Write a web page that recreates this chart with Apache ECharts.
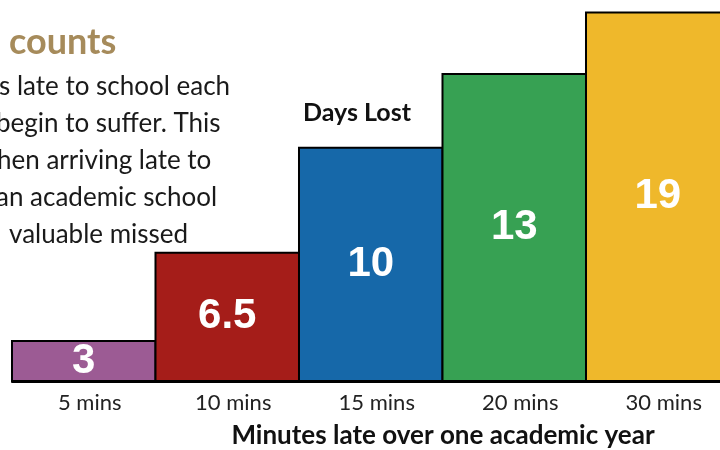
<!DOCTYPE html>
<html>
<head>
<meta charset="utf-8">
<script src="https://cdn.jsdelivr.net/npm/echarts@6/dist/echarts.min.js"></script>
<style>
html,body{margin:0;padding:0;background:#fff;}
#chart{width:720px;height:450px;}
</style>
</head>
<body>
<div id="chart"></div>
<script>
// Categories (minutes late per day)
const categories = ['5 mins', '10 mins', '15 mins', '20 mins', '30 mins'];
// Days lost over one academic year (value labels)
const daysLost = [3, 6.5, 10, 13, 19];
// Bar heights as drawn in the reference (the infographic is not to scale)
const barHeights = [2.15, 6.68, 12.06, 15.85, 19];
const barColors = ['#9c5b94', '#a51d19', '#1668a9', '#37a153', '#efb82b'];
// Visible (cropped) text from the reference
const titleText = 'counts';
const bodyLines = ['s late to school each', 'begin to suffer. This', 'hen arriving late to', 'an academic school', 'valuable missed'];
const seriesName = 'Days Lost';
const axisTitle = 'Minutes late over one academic year';

const chart = echarts.init(document.getElementById('chart'), null, {renderer: 'canvas'});
const bodyX = [-1, -4, -3, -4, 9];
const graphics = [
  {type: 'text', x: 9, y: 42, style: {text: titleText, font: 'bold 36px Lato', fill: '#a68b5b', verticalAlign: 'middle'}}
];
bodyLines.forEach((t, i) => {
  graphics.push({type: 'text', x: bodyX[i], y: 87 + i * 37, style: {text: t, font: '26px Lato', fill: '#1a1a1a', verticalAlign: 'middle'}});
});
graphics.push({type: 'text', x: 357, y: 113, style: {text: seriesName, font: 'bold 25px Lato', fill: '#111', align: 'center', verticalAlign: 'middle'}});
graphics.push({type: 'text', x: 443, y: 436, style: {text: axisTitle, font: 'bold 26px Lato', fill: '#111', align: 'center', verticalAlign: 'middle'}});

chart.setOption({
  animation: false,
  grid: {left: 12, right: -9.5, top: 11.5, bottom: 68, outerBoundsMode: 'none', containLabel: false},
  xAxis: {
    type: 'category',
    data: categories,
    axisLine: {show: true, lineStyle: {color: '#000', width: 2}},
    axisTick: {show: false},
    axisLabel: {color: '#222', fontFamily: 'Lato', fontSize: 22, margin: 10, padding: [0, 0, 0, 12], hideOverlap: false}
  },
  yAxis: {type: 'value', min: 0, max: 19, show: false, splitLine: {show: false}},
  series: [{
    type: 'bar',
    name: seriesName,
    barWidth: '101.4%',
    data: barHeights.map((h, i) => ({value: h, itemStyle: {color: barColors[i]}})),
    itemStyle: {borderColor: '#000', borderWidth: 2},
    label: {
      show: true,
      position: 'inside',
      formatter: p => String(daysLost[p.dataIndex]),
      color: '#fff',
      fontFamily: 'Liberation Sans',
      fontWeight: 'bold',
      fontSize: 42
    }
  }],
  graphic: graphics
});
</script>
</body>
</html>
